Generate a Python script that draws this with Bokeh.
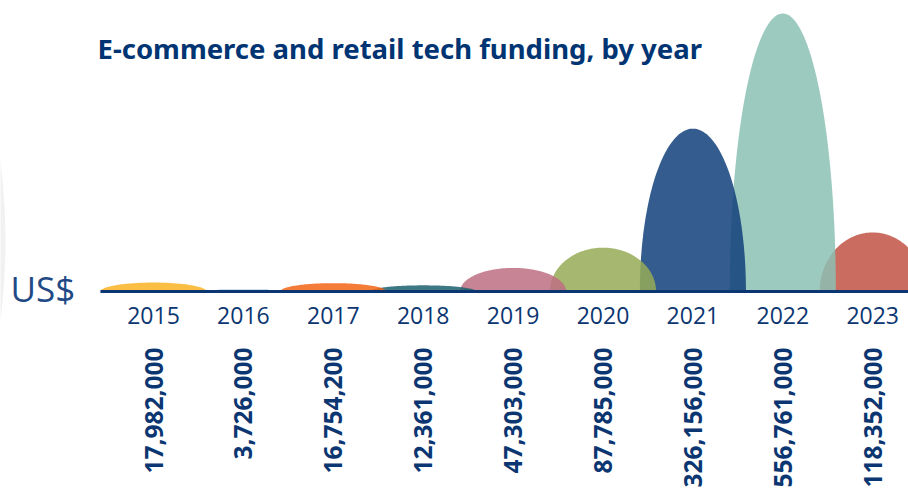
import numpy as np
from bokeh.plotting import figure
from bokeh.models import ColumnDataSource, Range1d, Label
from bokeh.core.properties import value
from bokeh.embed import file_html
from bokeh.resources import INLINE

# ---- data ----
years = [2015, 2016, 2017, 2018, 2019, 2020, 2021, 2022, 2023]
funding = [17982000, 3726000, 16754200, 12361000, 47303000,
           87785000, 326156000, 556761000, 118352000]
colors = ["#FBBE46", "#3C82D2", "#F47C38", "#3E7884", "#C78494",
          "#A6B870", "#345C8E", "#9DCABF", "#CA6E60"]
title_text = "E-commerce and retail tech funding, by year"
unit_text = "US$"

NAVY = "#0B3671"
ALPHA = 0.85
HALF_W = 0.59  # half width of each dome in year units

def base_color(hexc, a=ALPHA):
    r, g, b = (int(hexc[i:i + 2], 16) for i in (1, 3, 5))
    c = [max(0, min(255, round((v - (1 - a) * 255) / a))) for v in (r, g, b)]
    return "#%02x%02x%02x" % tuple(c)

vals_m = [v / 1e6 for v in funding]

# ---- figure ----
PX_PER_YEAR = 89.9
PX_PER_M = 278 / 556.761
W, H = 908, 489
BASE_PX = 291            # baseline distance from top
x0 = 2015 - 153 / PX_PER_YEAR
y_top = BASE_PX / PX_PER_M
y_bot = -(H - BASE_PX) / PX_PER_M

p = figure(width=W, height=H, output_backend="svg", toolbar_location=None,
           x_range=Range1d(x0, x0 + W / PX_PER_YEAR),
           y_range=Range1d(y_bot, y_top),
           x_axis_type=None, y_axis_type=None, min_border=0)
p.grid.visible = False
p.outline_line_color = None
p.background_fill_color = "white"
p.border_fill_color = "white"

# faint decorative disc at the left edge
R_PX = 627
p.ellipse(x=[x0 - (R_PX - 5) / PX_PER_YEAR], y=[(BASE_PX - 240) / PX_PER_M],
          width=[2 * R_PX / PX_PER_YEAR], height=[2 * R_PX / PX_PER_M],
          fill_color="#F1F1F1", line_color=None)

# domes (half ellipses), drawn right-to-left so left domes sit on top
t = np.linspace(0, np.pi, 90)
xs, ys, fills = [], [], []
for yr, v, c in reversed(list(zip(years, vals_m, colors))):
    xs.append(list(yr + HALF_W * np.cos(t)))
    ys.append(list(v * np.sin(t)))
    fills.append(base_color(c))
p.patches(xs="xs", ys="ys", fill_color="fill", fill_alpha=ALPHA, line_color=None,
          source=ColumnDataSource(dict(xs=xs, ys=ys, fill=fills)))

# baseline
p.segment(x0=[years[0] - HALF_W], y0=[0], x1=[x0 + W / PX_PER_YEAR], y1=[0],
          line_color=NAVY, line_width=3)

# year labels
src = ColumnDataSource(dict(x=years, yl=[-24 / PX_PER_M] * len(years),
                            yv=[-56 / PX_PER_M] * len(years),
                            yt=[str(y) for y in years],
                            vt=[f"{v:,}" for v in funding]))
p.text(x="x", y="yl", text="yt", source=src, text_align="center",
       text_baseline="middle", text_font=value("Open Sans"),
       text_font_size="23px", text_color=NAVY)

# value labels (rotated, anchored at top)
p.text(x="x", y="yv", text="vt", source=src, angle=np.pi / 2,
       text_align="right", text_baseline="middle",
       text_font=value("Open Sans"), text_font_style="bold",
       text_font_size="24.5px", text_color=NAVY)

# unit label
p.add_layout(Label(x=x0 + 10 / PX_PER_YEAR, y=3 / PX_PER_M, text=unit_text,
                   text_font="Open Sans", text_font_size="35px",
                   text_color="#1F4A86", text_baseline="middle"))

# title
p.add_layout(Label(x=x0 + 97 / PX_PER_YEAR, y=243 / PX_PER_M, text=title_text,
                   text_font="Noto Sans", text_font_style="bold",
                   text_font_size="27.5px", text_color="#003473",
                   text_baseline="middle"))

open("out.html", "w").write(file_html(p, INLINE))
